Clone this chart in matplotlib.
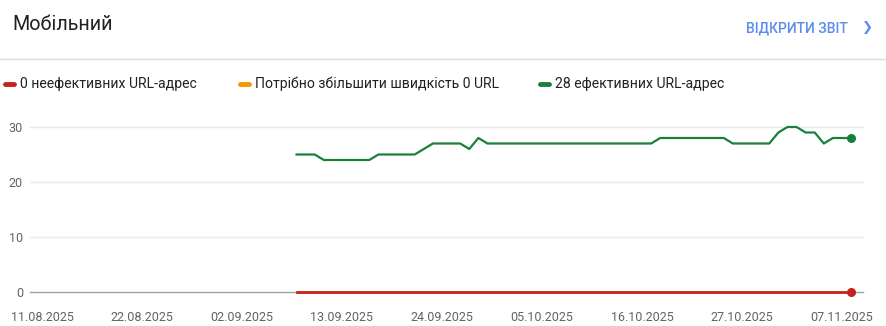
import matplotlib
matplotlib.use("Agg")
import matplotlib.pyplot as plt
import matplotlib.dates as mdates
from matplotlib.lines import Line2D
import numpy as np
import datetime as dt

plt.rcParams['font.family'] = ['Roboto', 'DejaVu Sans']

# дані
start = dt.date(2025, 9, 8)
good = [25, 25, 25, 24, 24, 24, 24, 24, 24, 25, 25, 25, 25, 25, 26, 27, 27, 27, 27, 26,
        28, 27, 27, 27, 27, 27, 27, 27, 27, 27, 27, 27, 27, 27, 27, 27, 27, 27, 27, 27,
        28, 28, 28, 28, 28, 28, 28, 28, 27, 27, 27, 27, 27, 29, 30, 30, 29, 29, 27, 28,
        28, 28]
dates = [start + dt.timedelta(days=i) for i in range(len(good))]
poor = [0] * len(good)
needs = [0] * len(good)
tick_dates = [dt.date(2025, 8, 11) + dt.timedelta(days=11 * i) for i in range(9)]
yticks = [0, 10, 20, 30]
legend_labels = ["0 неефективних URL-адрес", "Потрібно збільшити швидкість 0 URL", "28 ефективних URL-адрес"]
colors = ["#c5221f", "#f29900", "#188038"]

W, H = 886, 326
fig = plt.figure(figsize=(W / 100, H / 100), dpi=100)

# заголовок
fig.text(12 / W, 1 - 25 / H, "Мобільний", fontsize=14.2, color="#202124", va="center", ha="left")
fig.text(848 / W, 1 - 28 / H, "ВІДКРИТИ ЗВІТ", fontsize=10, color="#5b8def", va="center", ha="right",
         fontweight="medium")
fig.text(868 / W, 1 - 28 / H, "❯", fontsize=9.5, color="#5b8def", va="center", ha="center",
         family="DejaVu Sans")
fig.add_artist(Line2D([0, 1], [1 - 59 / H, 1 - 59 / H], color="#dadce0", lw=1))

# легенда
leg_x = [5, 240, 540]
for lx, lab, c in zip(leg_x, legend_labels, colors):
    fig.add_artist(Line2D([lx / W, (lx + 9) / W], [1 - 84 / H, 1 - 84 / H], color=c, lw=3.5,
                          solid_capstyle="round"))
    fig.text((lx + 15) / W, 1 - 84 / H, lab, fontsize=10.1, color="#202124", va="center", ha="left")

# графік
ax = fig.add_axes([30 / W, (H - 292) / H, (863 - 30) / W, 165 / H])
x0 = mdates.date2num(dt.date(2025, 8, 11))
ax.set_xlim(x0 - 12 / 9.0909, x0 - 12 / 9.0909 + 833 / 9.0909)
ax.set_ylim(0, 30)

for y in yticks[1:]:
    ax.axhline(y, color="#e8eaed", lw=1, zorder=0, clip_on=False)
ax.axhline(0, color="#9aa0a6", lw=1, zorder=1, clip_on=False)

ax.plot(dates, needs, color=colors[1], lw=1.8, zorder=2, clip_on=False)
ax.plot(dates, poor, color=colors[0], lw=1.9, zorder=3, clip_on=False)
ax.plot(dates, good, color=colors[2], lw=1.6, zorder=3, clip_on=False)
ax.plot([dates[-1]], [poor[-1]], "o", color=colors[0], ms=5.5, zorder=4, clip_on=False)
ax.plot([dates[-1]], [good[-1]], "o", color=colors[2], ms=5.5, zorder=4, clip_on=False)

ax.set_xticks([mdates.date2num(d) for d in tick_dates])
ax.set_xticklabels([d.strftime("%d.%m.%Y") for d in tick_dates])
ax.set_yticks(yticks)
ax.tick_params(axis="both", length=0, labelsize=9, labelcolor="#5f6368")
ax.tick_params(axis="x", pad=14)
ax.tick_params(axis="y", pad=5)
for s in ax.spines.values():
    s.set_visible(False)
ax.set_facecolor("none")

fig.savefig("out.png", dpi=100)
